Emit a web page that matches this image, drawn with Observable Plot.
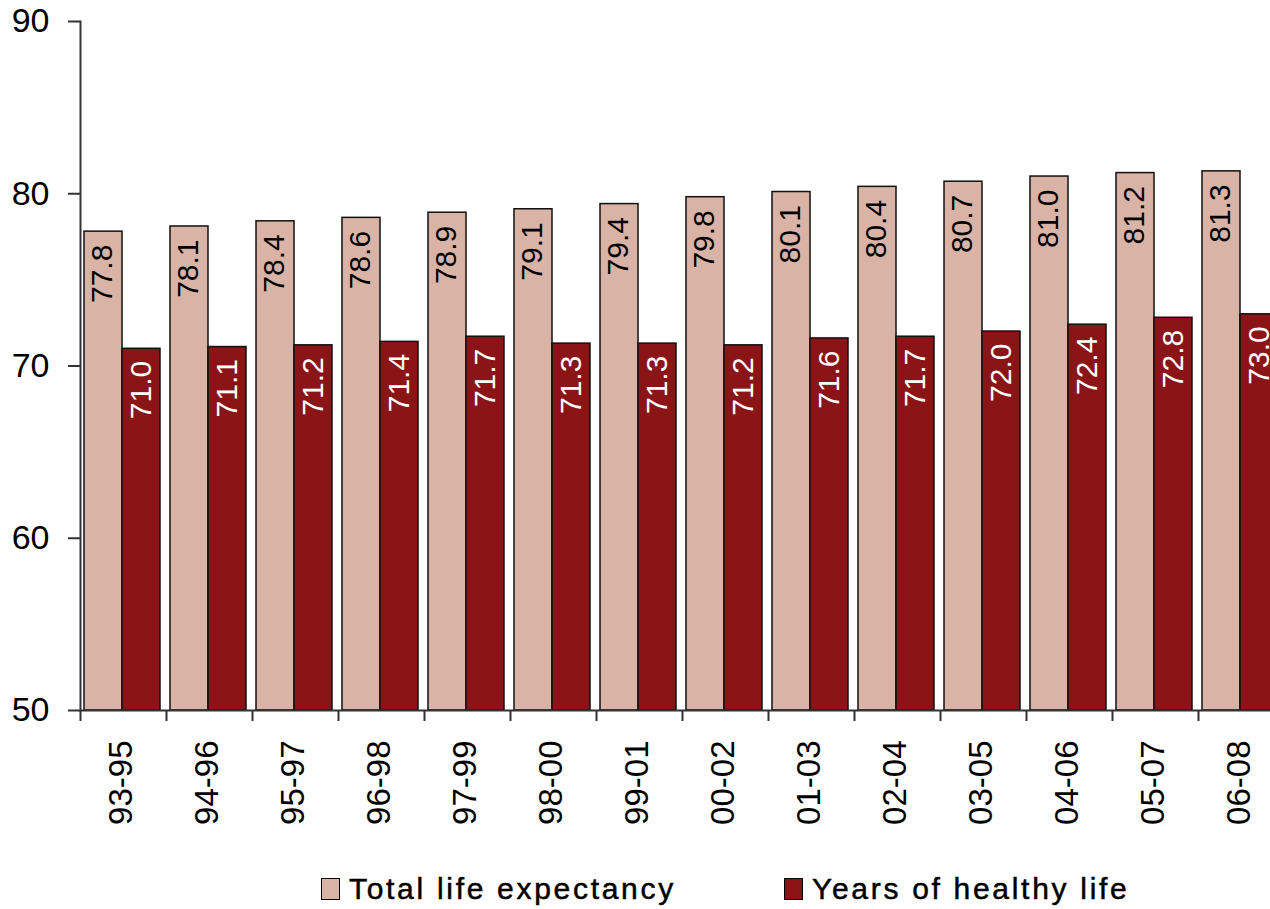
<!DOCTYPE html>
<html>
<head>
<meta charset="utf-8">
<script src="https://cdn.jsdelivr.net/npm/d3@7"></script>
<script src="https://cdn.jsdelivr.net/npm/@observablehq/plot@0.6"></script>
<style>
  body { margin: 0; background: #fff; font-family: "Liberation Sans", Arial, sans-serif; }
  #legend { position: relative; height: 49px; width: 1270px; }
  .item { position: absolute; top: 8px; height: 41px; display: flex; align-items: center; font-size: 30px; letter-spacing: 2.7px; color: #000; -webkit-text-stroke: 0.5px #000; }
  .sw { width: 19px; height: 22px; border: 1.5px solid #000; margin-right: 9px; box-sizing: border-box; }
</style>
</head>
<body>
<div id="chart"></div>
<div id="legend"></div>
<script>
const periods = ["93-95","94-96","95-97","96-98","97-99","98-00","99-01","00-02","01-03","02-04","03-05","04-06","05-07","06-08"];
const totalLife = [77.8,78.1,78.4,78.6,78.9,79.1,79.4,79.8,80.1,80.4,80.7,81.0,81.2,81.3];
const healthyLife = [71.0,71.1,71.2,71.4,71.7,71.3,71.3,71.2,71.6,71.7,72.0,72.4,72.8,73.0];
const seriesNames = ["Total life expectancy", "Years of healthy life"];
const yTicks = [50,60,70,80,90];

const tan = "#D9B3A5";
const red = "#8B1516";

const data = periods.map((p, i) => ({period: p, total: totalLife[i], healthy: healthyLife[i]}));

const font = "'Liberation Sans', Arial, sans-serif";

const plot = Plot.plot({
  width: 1270,
  height: 860,
  marginTop: 21,
  marginBottom: 150,
  marginLeft: 80,
  marginRight: 0,
  style: {fontFamily: font, background: "#fff"},
  x: {domain: periods, range: [80, 1284], padding: 0, axis: null, label: null},
  y: {domain: [50, 90], axis: null, label: null},
  marks: [
    Plot.barY(data, {x: "period", y1: 50, y2: "total", fill: tan, stroke: "#111", strokeWidth: 1.5, insetLeft: 4, insetRight: 44}),
    Plot.barY(data, {x: "period", y1: 50, y2: "healthy", fill: red, stroke: "#111", strokeWidth: 1.5, insetLeft: 42, insetRight: 6}),
    Plot.text(data, {x: "period", y: "total", text: d => d.total.toFixed(1), rotate: -90, textAnchor: "end", dx: -21, dy: 13, fontSize: 30, fill: "#000"}),
    Plot.text(data, {x: "period", y: "healthy", text: d => d.healthy.toFixed(1), rotate: -90, textAnchor: "end", dx: 18, dy: 12, fontSize: 30, fill: "#fff"}),
    Plot.frame({anchor: "left", stroke: "#333", strokeWidth: 2}),
    Plot.ruleY([50], {stroke: "#333", strokeWidth: 2}),
    Plot.ruleX(periods, {x: d => d, y1: 50, y2: 50, dx: -43, insetBottom: -11, stroke: "#333", strokeWidth: 2}),
    Plot.axisY({ticks: yTicks, tickSize: 12, tickPadding: 19, fontSize: 34, stroke: "#333", strokeWidth: 2, fill: "#000", tickFormat: d => String(d), label: null}),
    Plot.axisX({tickRotate: -90, tickSize: 0, tickPadding: 30, fontSize: 33, fill: "#000", dx: -2, label: null})
  ]
});
document.getElementById("chart").appendChild(plot);

const legend = document.getElementById("legend");
const items = [
  {name: seriesNames[0], color: tan, left: 321},
  {name: seriesNames[1], color: red, left: 784}
];
for (const it of items) {
  const d = document.createElement("div");
  d.className = "item";
  d.style.left = it.left + "px";
  const sw = document.createElement("div");
  sw.className = "sw";
  sw.style.background = it.color;
  const t = document.createElement("span");
  t.textContent = it.name;
  d.appendChild(sw);
  d.appendChild(t);
  legend.appendChild(d);
}
</script>
</body>
</html>
